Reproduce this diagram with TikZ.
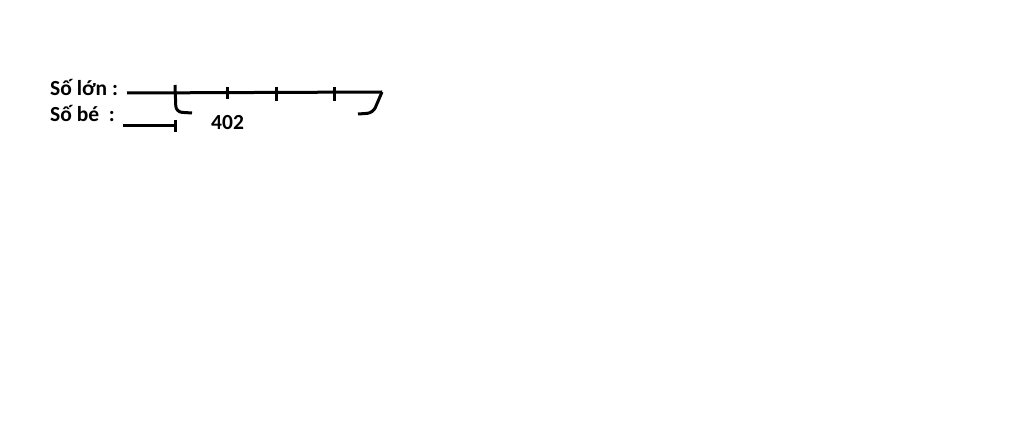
\documentclass[tikz,border=0pt]{standalone}
\usepackage{fontspec}
\setmainfont{Carlito}
\begin{document}
\begin{tikzpicture}[x=1pt,y=-1pt,
  lbl/.style={font=\bfseries\fontsize{21.5}{24}\selectfont, inner sep=0pt, anchor=base west},
  seg/.style={line width=3pt, black},
  brace/.style={line width=3pt, black, rounded corners=6pt}]
\useasboundingbox[fill=white] (0,0) rectangle (1024,446);
\node[lbl] (big) at (50,96) {Số lớn :};
\node[lbl] (small) at (50,122) {Số bé \ :};
\node[lbl] (num) at (211,130) {402};
% big line
\coordinate (b0) at (127,93);
\coordinate (b1) at (382,92);
\draw[seg] (b0) -- (b1);
\coordinate (t1a) at (227,87); \coordinate (t1b) at (227,99);
\coordinate (t2a) at (276,87); \coordinate (t2b) at (276,101);
\coordinate (t3a) at (334,87); \coordinate (t3b) at (334,101);
\draw[seg] (t1a) -- (t1b);
\draw[seg] (t2a) -- (t2b);
\draw[seg] (t3a) -- (t3b);
% left brace
\coordinate (l0) at (175,85);
\coordinate (l1) at (176,112);
\coordinate (l2) at (192,113);
\draw[brace] (l0) -- (l1) -- (l2);
% right brace
\coordinate (r1) at (373,113);
\coordinate (r2) at (358,114);
\draw[brace] (b1) -- (r1) -- (r2);
% small line
\coordinate (s0) at (123,126);
\coordinate (s1) at (175,126);
\coordinate (sa) at (175,120);
\coordinate (sb) at (175,132);
\draw[seg] (s0) -- (s1);
\draw[seg] (sa) -- (sb);
\end{tikzpicture}
\end{document}
